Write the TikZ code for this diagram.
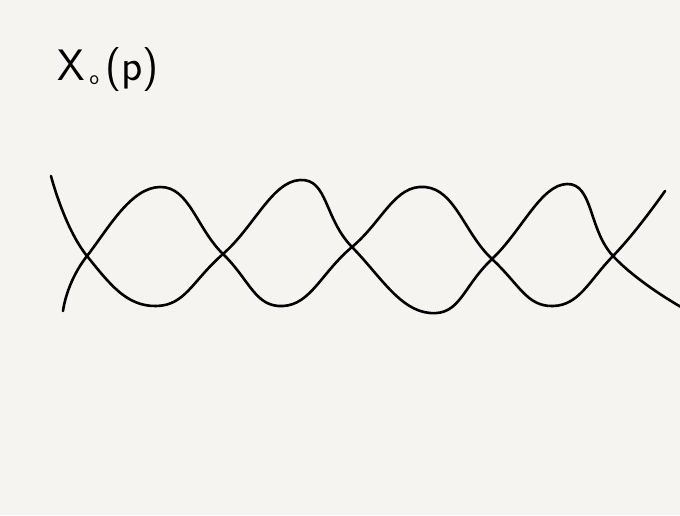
\documentclass[tikz,border=0pt]{standalone}
\usepackage{tikz}
\usetikzlibrary{positioning}
\definecolor{paper}{RGB}{245,244,241}

\begin{document}
\begin{tikzpicture}[x=1pt, y=-1pt]
    \tikzset{
      wave/.style={line width=2.6pt, line cap=round, line join=round, black},
      label/.style={inner sep=0pt, anchor=base west, font=\sffamily\fontsize{44}{48}\selectfont}
    }
    \fill[paper] (0,0) rectangle (680,515);
    \useasboundingbox (0,0) rectangle (680,515);
    \node[label] (title) at (57,80) {X\hspace{5pt}\raisebox{-4pt}{\fontsize{20}{22}\selectfont o}\hspace{6pt}(p)};
    \draw[wave] plot[smooth, tension=0.78] coordinates {
      (51,176) (87,256) (156,306) (223,254) (300,180) (352,247)
      (430,313) (492,259) (567,184) (613,256) (681,307)};
    \draw[wave] plot[smooth, tension=0.78] coordinates {
      (63,311) (87,256) (160,187) (223,254) (283,306) (352,247)
      (425,187) (492,259) (553,306) (613,256) (665,191)};
  \end{tikzpicture}
\end{document}
